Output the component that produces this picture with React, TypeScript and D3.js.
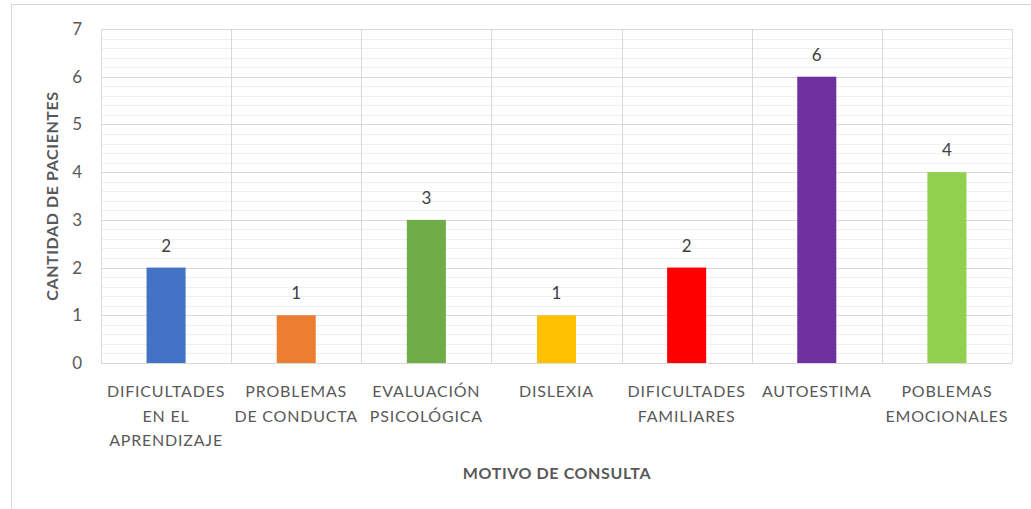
import * as d3 from 'd3';

const categories = [
  ['DIFICULTADES', 'EN EL', 'APRENDIZAJE'],
  ['PROBLEMAS', 'DE CONDUCTA'],
  ['EVALUACIÓN', 'PSICOLÓGICA'],
  ['DISLEXIA'],
  ['DIFICULTADES', 'FAMILIARES'],
  ['AUTOESTIMA'],
  ['POBLEMAS', 'EMOCIONALES'],
];
const values = [2, 1, 3, 1, 2, 6, 4];
const colors = ['#4472C4', '#ED7D31', '#70AD47', '#FFC000', '#FF0000', '#7030A0', '#92D050'];
const yTicks = [0, 1, 2, 3, 4, 5, 6, 7];

const W = 1031;
const H = 509;
const margin = { top: 29, right: 19, bottom: 146, left: 101 };
const font = 'Lato, "Open Sans", sans-serif';
const textColor = '#595959';

export default function App() {
  const x = d3
    .scaleBand<number>()
    .domain(d3.range(values.length))
    .range([margin.left, W - margin.right])
    .paddingInner(0);
  const y = d3
    .scaleLinear()
    .domain([0, 7])
    .range([H - margin.bottom, margin.top]);

  const minor = d3.range(0, 7.001, 0.2).filter((v) => Math.abs(v - Math.round(v)) > 0.01);
  const barW = x.bandwidth() * 0.3;

  return (
    <svg width={W} height={H} style={{ position: 'absolute', left: 0, top: 0, background: '#fff' }}>
      {/* chart frame */}
      <rect x={11.5} y={4.5} width={W + 10} height={H + 10} fill="none" stroke="#d9d9d9" />

      {/* minor gridlines */}
      {minor.map((v) => (
        <line key={'m' + v} x1={margin.left} x2={W - margin.right} y1={Math.round(y(v)) + 0.5} y2={Math.round(y(v)) + 0.5} stroke="#f0f0f0" />
      ))}
      {/* major gridlines */}
      {yTicks.map((v) => (
        <line key={'g' + v} x1={margin.left} x2={W - margin.right} y1={Math.round(y(v)) + 0.5} y2={Math.round(y(v)) + 0.5} stroke="#d9d9d9" />
      ))}
      {/* category separators */}
      {d3.range(values.length + 1).map((i) => {
        const xx = Math.round(i < values.length ? x(i)! : W - margin.right) + 0.5;
        return <line key={'v' + i} x1={xx} x2={xx} y1={y(7)} y2={y(0)} stroke="#d9d9d9" />;
      })}

      {/* bars */}
      {values.map((v, i) => {
        const cx = x(i)! + x.bandwidth() / 2;
        return (
          <g key={'b' + i}>
            <rect x={cx - barW / 2} y={y(v)} width={barW} height={y(0) - y(v)} fill={colors[i]} />
            <text x={cx} y={y(v) - 16} textAnchor="middle" fontFamily={font} fontSize={17} fill="#404040">
              {v}
            </text>
          </g>
        );
      })}

      {/* y tick labels */}
      {yTicks.map((v) => (
        <text key={'t' + v} x={82} y={y(v) + 6} textAnchor="end" fontFamily={font} fontSize={17} fill={textColor}>
          {v}
        </text>
      ))}

      {/* x tick labels */}
      {categories.map((lines, i) => {
        const cx = x(i)! + x.bandwidth() / 2;
        return (
          <text key={'c' + i} textAnchor="middle" fontFamily={font} fontSize={16} fill={textColor} letterSpacing={0.8}>
            {lines.map((l, j) => (
              <tspan key={j} x={cx} y={397 + j * 24.5}>
                {l}
              </tspan>
            ))}
          </text>
        );
      })}

      {/* axis titles */}
      <text x={557} y={479} textAnchor="middle" fontFamily={font} fontSize={16} fontWeight="bold" fill={textColor} letterSpacing={0.6}>
        MOTIVO DE CONSULTA
      </text>
      <text
        transform={`translate(58,${(y(0) + y(7)) / 2}) rotate(-90)`}
        textAnchor="middle"
        fontFamily={font}
        fontSize={16}
        fontWeight="bold"
        fill={textColor}
        letterSpacing={0.6}
      >
        CANTIDAD DE PACIENTES
      </text>
    </svg>
  );
}
